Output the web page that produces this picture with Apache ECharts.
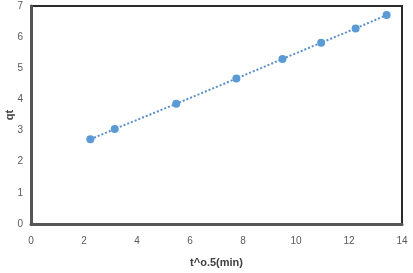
<!DOCTYPE html>
<html>
<head>
<meta charset="utf-8">
<script src="https://cdn.jsdelivr.net/npm/echarts@6/dist/echarts.min.js"></script>
<style>html,body{margin:0;padding:0;background:#fff}#c{width:413px;height:273px}</style>
</head>
<body>
<div id="c"></div>
<script>
var xValues = [2.24, 3.16, 5.48, 7.75, 9.49, 10.95, 12.25, 13.42];
var qtValues = [2.72, 3.05, 3.86, 4.67, 5.30, 5.82, 6.28, 6.71];
var xTicks = [0, 2, 4, 6, 8, 10, 12, 14];
var yTicks = [0, 1, 2, 3, 4, 5, 6, 7];

var data = xValues.map(function (x, i) { return [x, qtValues[i]]; });
var font = 'Liberation Sans';
var chart = echarts.init(document.getElementById('c'), null, { renderer: 'canvas' });
chart.setOption({
  animation: false,
  backgroundColor: '#fff',
  grid: { left: 31, right: 11, top: 6, bottom: 49, containLabel: false, outerBoundsMode: 'none',
          show: true, borderColor: '#2b2b2b', borderWidth: 2 },
  xAxis: {
    type: 'value', min: xTicks[0], max: xTicks[xTicks.length - 1], interval: 2,
    name: 't^o.5(min)', nameLocation: 'middle', nameGap: 33, nameMoveOverlap: false,
    nameTextStyle: { fontFamily: font, fontSize: 11, fontWeight: 'bold', color: '#404040' },
    axisLine: { show: true, lineStyle: { color: '#555', width: 3 } },
    axisTick: { show: false },
    splitLine: { show: false },
    axisLabel: { fontFamily: font, fontSize: 10, color: '#595959', margin: 12 }
  },
  yAxis: {
    type: 'value', min: yTicks[0], max: yTicks[yTicks.length - 1], interval: 1,
    name: 'qt', nameLocation: 'middle', nameGap: 16, nameMoveOverlap: false,
    nameTextStyle: { fontFamily: font, fontSize: 11, fontWeight: 'bold', color: '#404040' },
    axisLine: { show: true, lineStyle: { color: '#555', width: 3 } },
    axisTick: { show: false },
    splitLine: { show: false },
    axisLabel: { fontFamily: font, fontSize: 10, color: '#595959', margin: 8 }
  },
  series: [{
    type: 'line',
    data: data,
    symbol: 'circle',
    symbolSize: 8,
    itemStyle: { color: '#5b9bd5' },
    lineStyle: { color: '#5b8fc7', width: 2, type: [2, 2] }
  }]
});
</script>
</body>
</html>
